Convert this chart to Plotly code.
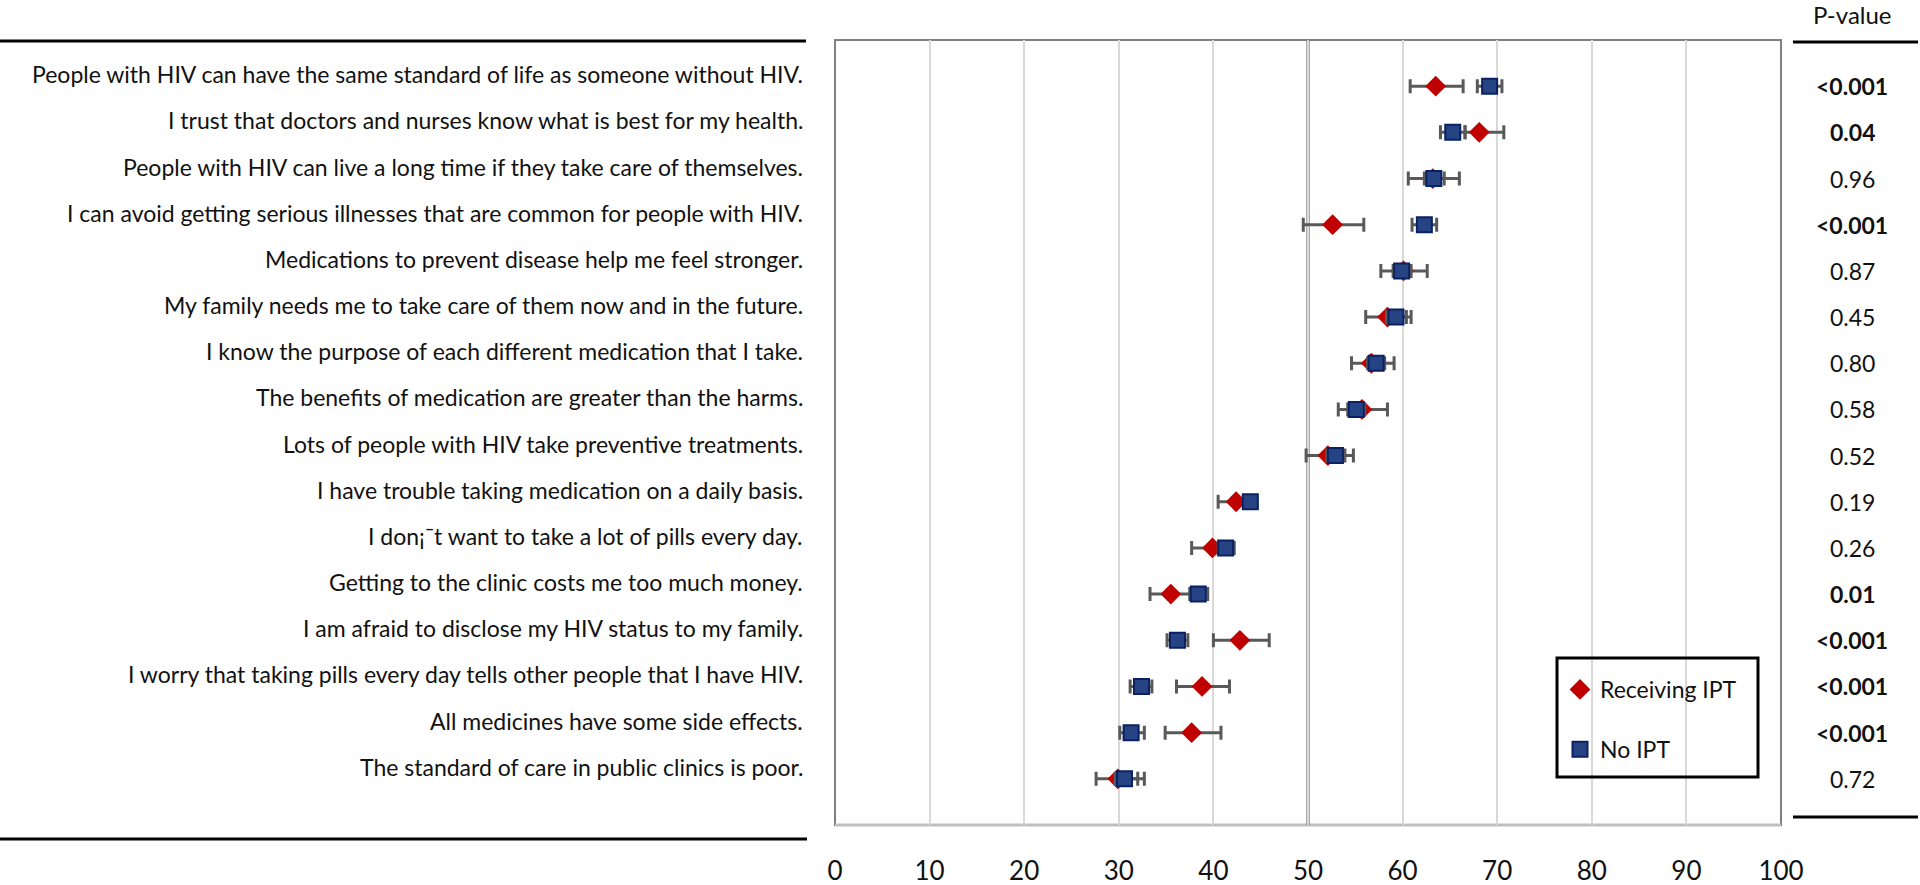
import plotly.graph_objects as go

# ---------------- data ----------------
statements = [
    "People with HIV can have the same standard of life as someone without HIV.",
    "I trust that doctors and nurses know what is best for my health.",
    "People with HIV can live a long time if they take care of themselves.",
    "I can avoid getting serious illnesses that are common for people with HIV.",
    "Medications to prevent disease help me feel stronger.",
    "My family needs me to take care of them now and in the future.",
    "I know the purpose of each different medication that I take.",
    "The benefits of medication are greater than the harms.",
    "Lots of people with HIV take preventive treatments.",
    "I have trouble taking medication on a daily basis.",
    "I don¡¯t want to take a lot of pills every day.",
    "Getting to the clinic costs me too much money.",
    "I am afraid to disclose my HIV status to my family.",
    "I worry that taking pills every day tells other people that I have HIV.",
    "All medicines have some side effects.",
    "The standard of care in public clinics is poor.",
]

ipt_mean = [63.5, 68.1, 63.2, 52.6, 60.1, 58.4, 56.7, 55.7, 52.1, 42.4, 39.9, 35.5, 42.8, 38.8, 37.7, 29.9]
ipt_lo   = [60.8, 66.6, 60.6, 49.5, 57.7, 56.1, 54.6, 53.2, 49.8, 40.5, 37.7, 33.3, 40.0, 36.1, 34.9, 27.6]
ipt_hi   = [66.4, 70.7, 66.0, 55.9, 62.6, 60.9, 59.1, 58.4, 54.8, 44.3, 42.0, 37.7, 45.9, 41.7, 40.8, 32.7]

no_mean  = [69.2, 65.3, 63.3, 62.3, 59.9, 59.3, 57.2, 55.1, 52.9, 43.9, 41.3, 38.4, 36.2, 32.4, 31.3, 30.6]
no_lo    = [67.9, 64.0, 62.3, 61.0, 59.0, 58.3, 56.3, 54.2, 52.0, 43.2, 40.5, 37.5, 35.1, 31.2, 30.1, 29.6]
no_hi    = [70.5, 66.6, 64.4, 63.6, 60.9, 60.4, 58.1, 56.0, 53.9, 44.6, 42.2, 39.4, 37.3, 33.5, 32.7, 32.0]

p_values = ["<0.001", "0.04", "0.96", "<0.001", "0.87", "0.45", "0.80", "0.58",
            "0.52", "0.19", "0.26", "0.01", "<0.001", "<0.001", "<0.001", "0.72"]
p_bold   = [True, True, False, True, False, False, False, False,
            False, False, False, True, True, True, True, False]

x_ticks = [0, 10, 20, 30, 40, 50, 60, 70, 80, 90, 100]
series_names = ["Receiving IPT", "No IPT"]

# ---------------- layout geometry (pixels) ----------------
W, H = 1920, 885
L, R, T, B = 835, 1781, 40, 825
FONT = "Lato, Carlito, Calibri, sans-serif"
TXT = "#111111"


def pxx(p):
    return (p - L) / (R - L)


def pxy(p):
    return (B - p) / (B - T)


n = len(statements)
ypos = [n - 1 - i for i in range(n)]

fig = go.Figure()

fig.add_trace(go.Scatter(
    x=ipt_mean, y=ypos, mode="markers", name=series_names[0],
    marker=dict(symbol="diamond", size=16, color="#C00000", line=dict(width=0)),
    error_x=dict(type="data", symmetric=False,
                 array=[h - m for h, m in zip(ipt_hi, ipt_mean)],
                 arrayminus=[m - lo for m, lo in zip(ipt_mean, ipt_lo)],
                 color="#595959", thickness=3, width=7),
    legendgroup="a",
))
fig.add_trace(go.Scatter(
    x=no_mean, y=ypos, mode="markers", name=series_names[1],
    marker=dict(symbol="square", size=15, color="#264483", line=dict(width=2, color="#0A2163")),
    error_x=dict(type="data", symmetric=False,
                 array=[h - m for h, m in zip(no_hi, no_mean)],
                 arrayminus=[m - lo for m, lo in zip(no_mean, no_lo)],
                 color="#595959", thickness=3, width=7),
    legendgroup="b",
))

annotations = []
for i, s in enumerate(statements):
    annotations.append(dict(
        x=pxx(805), xref="paper", y=ypos[i], yref="y", yshift=12,
        text=s, showarrow=False, xanchor="right", yanchor="middle",
        font=dict(family=FONT, size=23, color=TXT),
    ))
for i, p in enumerate(p_values):
    annotations.append(dict(
        x=pxx(1852), xref="paper", y=ypos[i], yref="y",
        text=f"<b>{p}</b>" if p_bold[i] else p, showarrow=False,
        xanchor="center", yanchor="middle",
        font=dict(family=FONT, size=23, color=TXT),
    ))
annotations.append(dict(
    x=pxx(1852), xref="paper", y=pxy(14), yref="paper", text="P-value",
    showarrow=False, xanchor="center", yanchor="middle",
    font=dict(family=FONT, size=24, color=TXT),
))

shapes = [
    # frame
    dict(type="rect", xref="paper", yref="paper", x0=0, x1=1, y0=0, y1=1,
         line=dict(color="#808080", width=2), layer="between"),
    dict(type="line", xref="paper", yref="paper", x0=0, x1=1, y0=0, y1=0,
         line=dict(color="#BFBFBF", width=3), layer="between"),
    # reference line at 50
    dict(type="line", xref="x", yref="paper", x0=50, x1=50, y0=0, y1=1,
         line=dict(color="#595959", width=3), layer="between"),
    # legend box
    dict(type="rect", xref="paper", yref="paper", x0=pxx(1557), x1=pxx(1758),
         y0=pxy(777), y1=pxy(658), line=dict(color="black", width=3),
         fillcolor="rgba(0,0,0,0)", layer="above"),
    # table rules
    dict(type="line", xref="paper", yref="paper", x0=pxx(0), x1=pxx(806), y0=pxy(41), y1=pxy(41),
         line=dict(color="black", width=3)),
    dict(type="line", xref="paper", yref="paper", x0=pxx(0), x1=pxx(807), y0=pxy(839), y1=pxy(839),
         line=dict(color="black", width=3)),
    dict(type="line", xref="paper", yref="paper", x0=pxx(1793), x1=pxx(1918), y0=pxy(42), y1=pxy(42),
         line=dict(color="black", width=3)),
    dict(type="line", xref="paper", yref="paper", x0=pxx(1793), x1=pxx(1918), y0=pxy(817), y1=pxy(817),
         line=dict(color="black", width=3)),
]

fig.update_layout(
    width=W, height=H, autosize=False,
    margin=dict(l=L, r=W - R, t=T, b=H - B, pad=0, autoexpand=False),
    paper_bgcolor="white", plot_bgcolor="white",
    font=dict(family=FONT, color=TXT),
    xaxis=dict(range=[0, 100], tickvals=x_ticks, showgrid=True, gridcolor="#D9D9D9",
               gridwidth=2, zeroline=False, showline=False, ticks="", automargin=False,
               ticklabelstandoff=28, tickfont=dict(family=FONT, size=26, color=TXT)),
    yaxis=dict(range=[-1, n], showgrid=False, zeroline=False, showticklabels=False,
               showline=False, ticks="", automargin=False),
    showlegend=True,
    legend=dict(x=pxx(1560), y=pxy(668), xanchor="left", yanchor="top",
                borderwidth=0, bgcolor="rgba(0,0,0,0)",
                font=dict(family=FONT, size=23, color=TXT),
                tracegroupgap=27, traceorder="grouped", itemwidth=30),
    annotations=annotations,
    shapes=shapes,
)

fig.write_html(
    "out.html",
    config={"displayModeBar": False},
    post_script="document.body.style.margin='0';document.body.style.overflow='hidden';",
)
